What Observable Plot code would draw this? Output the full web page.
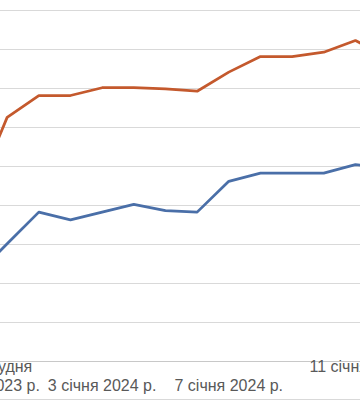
<!DOCTYPE html>
<html>
<head>
<meta charset="utf-8">
<script src="https://cdn.jsdelivr.net/npm/d3@7"></script>
<script src="https://cdn.jsdelivr.net/npm/@observablehq/plot@0.6"></script>
<style>
  html, body { margin: 0; padding: 0; background: #fff; }
  #chart { width: 360px; height: 399px; border-bottom: 1px solid #d9d9d9; overflow: hidden; }
</style>
</head>
<body>
<div id="chart"></div>
<script>
// Data (units: one gridline = 10)
const dates = ["2023-12-30", "2023-12-31", "2024-01-01", "2024-01-02", "2024-01-03", "2024-01-04", "2024-01-05",
               "2024-01-06", "2024-01-07", "2024-01-08", "2024-01-09", "2024-01-10", "2024-01-11", "2024-01-12"];
const orangeSeries = [42.9, 62.6, 68.2, 68.2, 70.2, 70.2, 69.9, 69.3, 74.2, 78.2, 78.2, 79.3, 82.3, 78.2];
const blueSeries   = [22.0, 30.2, 38.3, 36.3, 38.3, 40.3, 38.7, 38.3, 46.2, 48.3, 48.3, 48.3, 50.5, 49.5];

const yTicks = [0, 10, 20, 30, 40, 50, 60, 70, 80, 90];
const row1Ticks  = ["2023-12-31", "2024-01-11"];
const row1Labels = ["31 грудня", "11 січня 2024 р."];
const row2Ticks  = ["2023-12-30", "2024-01-03", "2024-01-07"];
const row2Labels = ["30 грудня 2023 р.", "3 січня 2024 р.", "7 січня 2024 р."];

const rows = dates.map((d, i) => ({date: new Date(d), orange: orangeSeries[i], blue: blueSeries[i]}));
const fmt = (ticks, labels) => (d) => labels[ticks.indexOf(d.toISOString().slice(0, 10))];

const day = 864e5;
const x0 = new Date(new Date("2023-12-31").getTime() - 0.21 * day);
const x1 = new Date(new Date("2024-01-11").getTime() + 0.16 * day);

const chart = Plot.plot({
  width: 360,
  height: 399,
  marginTop: 10,
  marginBottom: 38,
  marginLeft: 0,
  marginRight: 0,
  style: {fontFamily: "'Liberation Sans', Arial, sans-serif", fontSize: "16px", color: "#595959", background: "#fff", overflow: "visible"},
  x: {type: "utc", domain: [x0, x1], axis: null},
  y: {domain: [0, 90], axis: null},
  marks: [
    Plot.gridY(yTicks, {stroke: "#d9d9d9", strokeOpacity: 1, strokeWidth: 1}),
    Plot.ruleY([0], {stroke: "#c8c8c8", strokeWidth: 1}),
    Plot.lineY(rows, {x: "date", y: "blue", stroke: "#4a6fa8", strokeWidth: 2.75, clip: true}),
    Plot.lineY(rows, {x: "date", y: "orange", stroke: "#c4592d", strokeWidth: 2.75, clip: true}),
    Plot.axisX(row1Ticks.map(d => new Date(d)), {tickSize: 0, tickPadding: -1, tickFormat: fmt(row1Ticks, row1Labels),
      textAnchor: "start", dx: -46, fontSize: 16, fill: "#595959"}),
    Plot.axisX(row2Ticks.map(d => new Date(d)), {tickSize: 0, tickPadding: 18, tickFormat: fmt(row2Ticks, row2Labels),
      fontSize: 16, fill: "#595959"})
  ]
});
document.getElementById("chart").append(chart);
</script>
</body>
</html>
